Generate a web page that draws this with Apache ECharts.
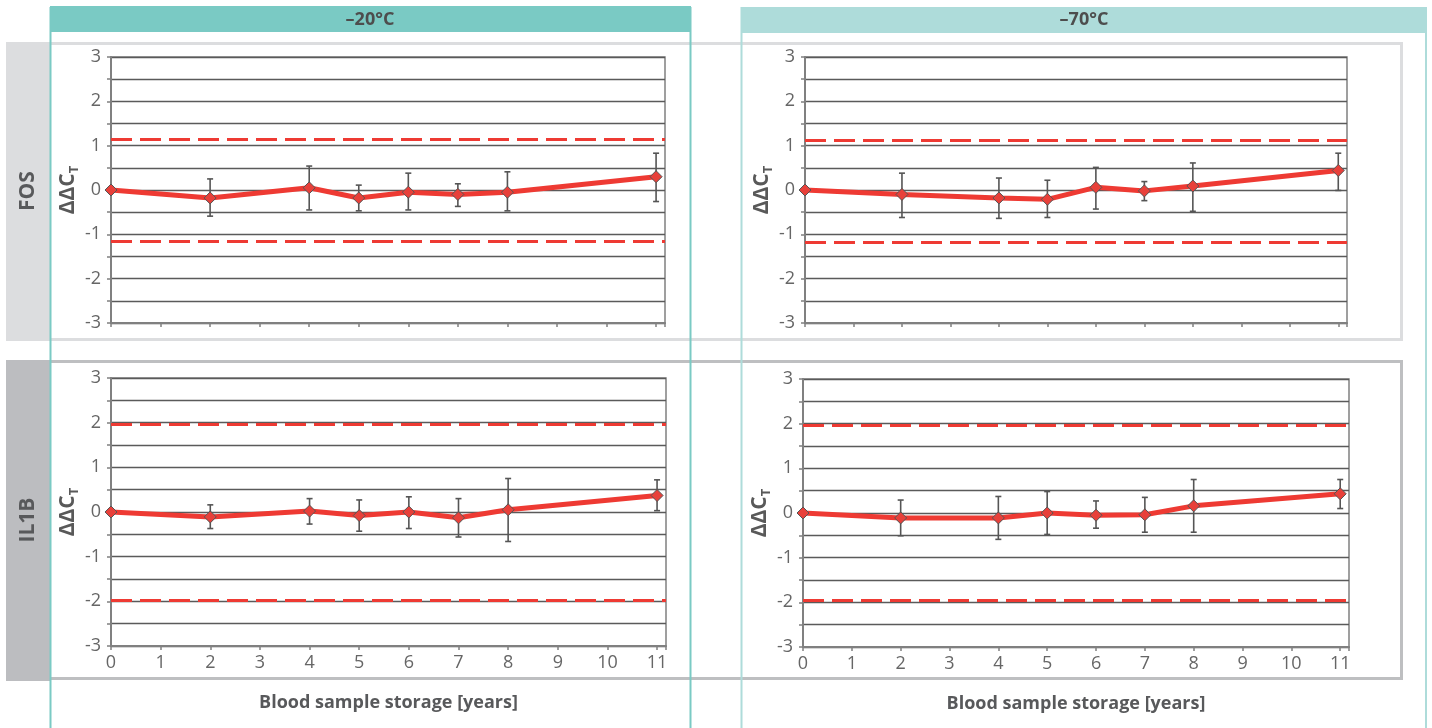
<!DOCTYPE html>
<html>
<head>
<meta charset="utf-8">
<script src="https://cdn.jsdelivr.net/npm/echarts@6/dist/echarts.min.js"></script>
<style>
  html, body { margin: 0; padding: 0; background: #fff; }
  #chart { width: 1432px; height: 728px; }
</style>
</head>
<body>
<div id="chart"></div>
<script>
// ---------- data ----------
const years = [0, 2, 4, 5, 6, 7, 8, 11];
const xTicksMax = 11.18;

const fos20 = [0, -0.18, 0.05, -0.18, -0.05, -0.10, -0.05, 0.30];
const fos20Low = [0, -0.59, -0.45, -0.47, -0.45, -0.37, -0.47, -0.26];
const fos20High = [0, 0.25, 0.54, 0.11, 0.38, 0.14, 0.41, 0.83];
const fos20Limits = [1.15, -1.16];

const fos70 = [0, -0.10, -0.18, -0.21, 0.06, -0.02, 0.09, 0.44];
const fos70Low = [0, -0.62, -0.64, -0.62, -0.43, -0.24, -0.48, -0.01];
const fos70High = [0, 0.38, 0.27, 0.22, 0.51, 0.19, 0.61, 0.83];
const fos70Limits = [1.13, -1.18];

const il20 = [0, -0.11, 0.02, -0.08, 0.00, -0.13, 0.05, 0.37];
const il20Low = [0, -0.37, -0.27, -0.43, -0.37, -0.56, -0.66, 0.03];
const il20High = [0, 0.16, 0.30, 0.27, 0.34, 0.30, 0.75, 0.72];
const il20Limits = [1.96, -1.97];

const il70 = [0, -0.11, -0.11, 0.00, -0.05, -0.04, 0.16, 0.43];
const il70Low = [0, -0.51, -0.59, -0.48, -0.34, -0.43, -0.43, 0.10];
const il70High = [0, 0.29, 0.37, 0.48, 0.27, 0.35, 0.75, 0.75];
const il70Limits = [1.97, -1.96];

const columnTitles = ['–20°C', '–70°C'];
const rowTitles = ['FOS', 'IL1B'];
const xTitle = 'Blood sample storage [years]';
const yTicks = [-3, -2, -1, 0, 1, 2, 3];

// ---------- layout ----------
const FONT = 'Open Sans';
const RED = '#EE3A33';
const panels = [
  { grid: { left: 111, top: 57, width: 554, height: 266 }, v: fos20, lo: fos20Low, hi: fos20High, lim: fos20Limits, labels: false },
  { grid: { left: 805, top: 57, width: 542, height: 266 }, v: fos70, lo: fos70Low, hi: fos70High, lim: fos70Limits, labels: false },
  { grid: { left: 111, top: 378, width: 555, height: 268 }, v: il20, lo: il20Low, hi: il20High, lim: il20Limits, labels: true },
  { grid: { left: 803, top: 379, width: 546, height: 268 }, v: il70, lo: il70Low, hi: il70High, lim: il70Limits, labels: true }
];

const grids = [], xAxes = [], yAxes = [], series = [];
panels.forEach((p, i) => {
  grids.push(Object.assign({
    show: true, backgroundColor: '#fff', borderColor: '#808080', borderWidth: 1.5, containLabel: false
  }, p.grid));
  xAxes.push({
    type: 'value', gridIndex: i, min: 0, max: xTicksMax, interval: 1,
    axisLine: { show: true, onZero: false, lineStyle: { color: '#808080', width: 2 } },
    axisTick: { show: true, length: 4, lineStyle: { color: '#808080', width: 1.5 } },
    axisLabel: {
      show: p.labels, margin: 8, color: '#666', fontSize: 18, fontFamily: FONT,
      formatter: v => Number.isInteger(v) ? String(v) : ''
    },
    splitLine: { show: false },
    name: p.labels ? xTitle : '', nameLocation: 'middle', nameGap: 48,
    nameTextStyle: { color: '#58595B', fontSize: 18, fontWeight: 'bold', fontFamily: FONT }
  });
  yAxes.push({
    type: 'value', gridIndex: i, min: -3, max: 3, interval: 0.5,
    axisLine: { show: true, lineStyle: { color: '#808080', width: 2 } },
    axisTick: { show: true, length: 4, lineStyle: { color: '#808080', width: 1.5 } },
    axisLabel: {
      margin: 10, color: '#666', fontSize: 18, fontFamily: FONT,
      formatter: v => yTicks.includes(v) ? String(v) : ''
    },
    splitLine: { show: true, lineStyle: { color: '#5a5a5a', width: 1.3 } },
    name: '{a|ΔΔC}{b|T}', nameLocation: 'middle', nameRotate: 90, nameGap: 30,
    nameTextStyle: {
      rich: {
        a: { fontSize: 21, fontWeight: 'bold', color: '#595959', fontFamily: FONT, lineHeight: 26, verticalAlign: 'middle' },
        b: { fontSize: 13, fontWeight: 'bold', color: '#595959', fontFamily: FONT, lineHeight: 26, verticalAlign: 'bottom', padding: [8, 0, 0, 0] }
      }
    }
  });
  // error bars
  series.push({
    type: 'custom', xAxisIndex: i, yAxisIndex: i, z: 3, silent: true, clip: false,
    data: years.map((x, k) => [x, p.lo[k], p.hi[k]]),
    encode: { x: 0, y: [1, 2] },
    renderItem: (params, api) => {
      const x = api.value(0), lo = api.value(1), hi = api.value(2);
      if (lo === hi) return null;
      const a = api.coord([x, hi]), b = api.coord([x, lo]);
      const st = { stroke: '#555', lineWidth: 1.6 };
      return {
        type: 'group', children: [
          { type: 'line', shape: { x1: a[0], y1: a[1], x2: b[0], y2: b[1] }, style: st },
          { type: 'line', shape: { x1: a[0] - 3, y1: a[1], x2: a[0] + 3, y2: a[1] }, style: st },
          { type: 'line', shape: { x1: b[0] - 3, y1: b[1], x2: b[0] + 3, y2: b[1] }, style: st }
        ]
      };
    }
  });
  // main line
  series.push({
    type: 'line', xAxisIndex: i, yAxisIndex: i, z: 4, clip: false, silent: true,
    data: years.map((x, k) => [x, p.v[k]]),
    symbol: 'diamond', symbolSize: 12, showSymbol: true,
    lineStyle: { color: RED, width: 5 },
    itemStyle: { color: '#E8403A', borderColor: '#555', borderWidth: 1 },
    markLine: {
      silent: true, symbol: 'none', animation: false,
      label: { show: false },
      lineStyle: { color: RED, width: 2.8, type: [21, 8] },
      data: p.lim.map(l => ({ yAxis: l }))
    }
  });
});

// ---------- frames / headers ----------
const graphic = [
  // row frames
  { type: 'rect', z: -20, shape: { x: 7.5, y: 43.5, width: 1394, height: 296 }, style: { fill: 'none', stroke: '#DCDDDF', lineWidth: 3 } },
  { type: 'rect', z: -20, shape: { x: 7.5, y: 361.5, width: 1394, height: 317 }, style: { fill: 'none', stroke: '#BEBFC1', lineWidth: 3 } },
  // row label boxes
  { type: 'rect', z: -19, shape: { x: 6, y: 42, width: 44, height: 299 }, style: { fill: '#DCDDDF' } },
  { type: 'rect', z: -19, shape: { x: 6, y: 360, width: 44, height: 321 }, style: { fill: '#BCBDC0' } },
  // column lines
  { type: 'line', z: -18, shape: { x1: 50.5, y1: 7, x2: 50.5, y2: 728 }, style: { stroke: '#7ACAC4', lineWidth: 2 } },
  { type: 'line', z: -18, shape: { x1: 690.5, y1: 7, x2: 690.5, y2: 728 }, style: { stroke: '#7ACAC4', lineWidth: 2 } },
  { type: 'line', z: -18, shape: { x1: 741.5, y1: 7, x2: 741.5, y2: 728 }, style: { stroke: '#AEDCDA', lineWidth: 2 } },
  { type: 'line', z: -18, shape: { x1: 1426, y1: 7, x2: 1426, y2: 728 }, style: { stroke: '#AEDCDA', lineWidth: 2 } },
  // header bands
  { type: 'rect', z: -17, shape: { x: 50, y: 6, width: 641, height: 26 }, style: { fill: '#7ACAC4' } },
  { type: 'rect', z: -17, shape: { x: 741, y: 7, width: 686, height: 26 }, style: { fill: '#AEDCDA' } },
  { type: 'text', z: 10, x: 370, y: 20, style: { text: columnTitles[0], fill: '#4D4D4D', font: 'bold 18px "Open Sans"', textAlign: 'center', textVerticalAlign: 'middle' } },
  { type: 'text', z: 10, x: 1084, y: 20, style: { text: columnTitles[1], fill: '#4D4D4D', font: 'bold 18px "Open Sans"', textAlign: 'center', textVerticalAlign: 'middle' } },
  { type: 'text', z: 10, x: 28, y: 191, rotation: Math.PI / 2, style: { text: rowTitles[0], fill: '#58595B', font: 'bold 21px "Open Sans"', textAlign: 'center', textVerticalAlign: 'middle' } },
  { type: 'text', z: 10, x: 28, y: 520, rotation: Math.PI / 2, style: { text: rowTitles[1], fill: '#58595B', font: 'bold 21px "Open Sans"', textAlign: 'center', textVerticalAlign: 'middle' } }
];

const chart = echarts.init(document.getElementById('chart'), null, { renderer: 'canvas' });
chart.setOption({
  animation: false,
  backgroundColor: '#fff',
  textStyle: { fontFamily: FONT },
  grid: grids,
  xAxis: xAxes,
  yAxis: yAxes,
  series: series,
  graphic: graphic
});
</script>
</body>
</html>
